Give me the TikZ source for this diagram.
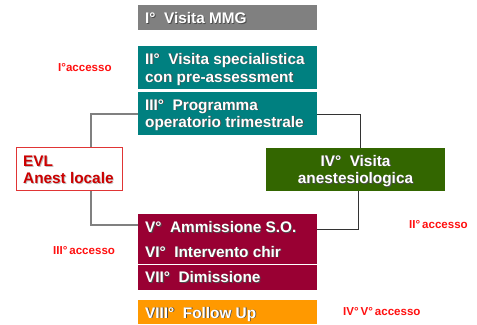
\documentclass[tikz,border=0pt]{standalone}
\usepackage{fontspec}
\setmainfont{Liberation Sans}
\usetikzlibrary{calc}
\definecolor{boxgray}{HTML}{808080}
\definecolor{boxteal}{HTML}{008080}
\definecolor{boxgreen}{HTML}{336600}
\definecolor{boxmaroon}{HTML}{990033}
\definecolor{boxorange}{HTML}{FF9900}
\definecolor{lblred}{HTML}{FF1010}
\definecolor{evlred}{HTML}{CC0000}
\definecolor{evlborder}{HTML}{E03535}
\newcommand{\shtext}[2]{\leavevmode\rlap{\kern0.9bp\raisebox{-0.9bp}{\textcolor{#2}{#1}}}#1}
\newcommand{\wsh}[1]{\shtext{#1}{black!70}}
\newcommand{\rsh}[1]{\shtext{#1}{black!25}}
\begin{document}
\begin{tikzpicture}[x=1bp,y=-1bp,
  fbox/.style={draw=none,inner sep=0pt,minimum width=179bp},
  wtxt/.style={inner sep=0pt,anchor=base west,text=white,font=\fontsize{15.4}{18}\selectfont\bfseries},
  ctxt/.style={inner sep=0pt,anchor=base,text=white,font=\fontsize{15.4}{18}\selectfont\bfseries},
  rtxt/.style={inner sep=0pt,anchor=base west,text=evlred,font=\fontsize{15.4}{18}\selectfont\bfseries},
  lbl/.style={inner sep=0pt,anchor=base west,text=lblred,font=\fontsize{11.6}{13}\selectfont\bfseries},
  lline/.style={draw=boxgray,line width=1.1bp},
  rline/.style={draw=black!80,line width=1bp}]
\useasboundingbox (0,0) rectangle (477,324);
% boxes
\node[fbox,fill=boxgray,minimum height=25bp] (b1) at (227.5,17.5) {};
\node[fbox,fill=boxteal,minimum height=43bp] (b2) at (227.5,67.5) {};
\node[fbox,fill=boxteal,minimum height=42.5bp] (b3) at (227.5,113.25) {};
\node[draw=evlborder,fill=white,line width=1bp,inner sep=0pt,minimum width=106bp,minimum height=43bp] (evl) at (69.5,169) {};
\node[fbox,fill=boxgreen,minimum height=43bp] (b4) at (355.5,169.5) {};
\node[fbox,fill=boxmaroon,minimum height=50bp] (b5) at (227.5,239) {};
\node[fbox,fill=boxmaroon,minimum height=25bp] (b7) at (227.5,277.5) {};
\node[fbox,fill=boxorange,minimum height=24bp] (b8) at (227.5,312) {};
% connectors
\draw[lline] (b3.west |- 0,114) -| ([xshift=21.5bp]evl.north);
\draw[lline] ([xshift=21.5bp]evl.south) |- ([yshift=14bp]b5.west);
\draw[rline] (b3.east |- 0,114) -| ([xshift=4.5bp]b4.north);
\draw[rline] ([xshift=2.5bp]b4.south) |- ([yshift=10bp]b5.east);
% texts
\node[wtxt] (t1) at (145,23.3) {\wsh{I°\ \ Visita MMG}};
\node[wtxt] (t2a) at (145,64) {\wsh{II°\ \ Visita specialistica}};
\node[wtxt] (t2b) at (145,82) {\wsh{con pre-assessment}};
\node[wtxt] (t3a) at (145,110) {\wsh{III°\ \ Programma}};
\node[wtxt] (t3b) at (145,127) {\wsh{operatorio trimestrale}};
\node[rtxt] (te1) at (23,166.5) {\rsh{EVL}};
\node[rtxt] (te2) at (23,183.5) {\rsh{Anest locale}};
\node[ctxt] (t4a) at (355.5,166) {\wsh{IV°\ \ Visita}};
\node[ctxt] (t4b) at (355.5,183.5) {\wsh{anestesiologica}};
\node[wtxt] (t5) at (145,232.7) {\wsh{V°\ \ Ammissione S.O.}};
\node[wtxt] (t6) at (145,257) {\wsh{VI°\ \ Intervento chir}};
\node[wtxt] (t7) at (145,282.7) {\wsh{VII°\ \ Dimissione}};
\node[wtxt] (t8) at (145,318) {\wsh{VIII°\ \ Follow Up}};
% labels
\node[lbl] (l1) at (58,71) {I°accesso};
\node[lbl] (l2) at (409,228.5) {II°\,accesso};
\node[lbl] (l3) at (53,254) {III°\,accesso};
\node[lbl] (l4) at (343,315.7) {IV°\,V°\,accesso};
\end{tikzpicture}
\end{document}
